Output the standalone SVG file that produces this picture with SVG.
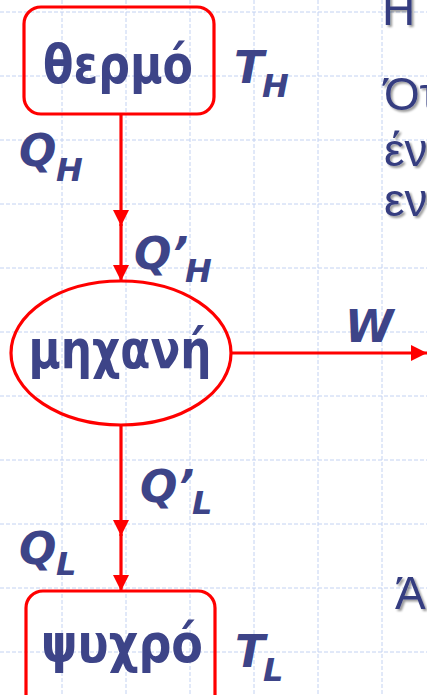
<svg xmlns="http://www.w3.org/2000/svg" width="427" height="695" viewBox="0 0 427 695">
<style>
.grid line{stroke:#c3d2f2;stroke-width:1;stroke-dasharray:4 2}
.shape{fill:none;stroke:#ff0000;stroke-width:3.2}
.conn{fill:none;stroke:#ff0000;stroke-width:3.2;marker-end:url(#ah)}
.node{font-family:"DejaVu Sans",Verdana,sans-serif;font-weight:bold;fill:#3d4488}
.lbl{font-family:"DejaVu Sans",Verdana,sans-serif;font-weight:bold;font-style:italic;fill:#3d4488}
.side{font-family:"Liberation Sans",Arial,sans-serif;font-size:46px;fill:#363d80;filter:url(#sh)}
</style>
<defs>
<marker id="ah" viewBox="0 0 10 10" refX="10" refY="5" markerWidth="5" markerHeight="5" markerUnits="strokeWidth" orient="auto">
<path d="M0,0 L10,5 L0,10 z" fill="#ff0000"/>
</marker>
<filter id="sh" x="-20%" y="-20%" width="150%" height="150%">
<feDropShadow dx="2" dy="2" stdDeviation="1" flood-color="#000" flood-opacity="0.4"/>
</filter>
</defs>
<rect width="427" height="695" fill="#ffffff"/>
<g class="grid">
<line x1="0" y1="12" x2="427" y2="12"/>
<line x1="0" y1="76" x2="427" y2="76"/>
<line x1="0" y1="140" x2="427" y2="140"/>
<line x1="0" y1="204" x2="427" y2="204"/>
<line x1="0" y1="268" x2="427" y2="268"/>
<line x1="0" y1="332" x2="427" y2="332"/>
<line x1="0" y1="396" x2="427" y2="396"/>
<line x1="0" y1="460" x2="427" y2="460"/>
<line x1="0" y1="524" x2="427" y2="524"/>
<line x1="0" y1="588" x2="427" y2="588"/>
<line x1="0" y1="652" x2="427" y2="652"/>
<line x1="62" y1="0" x2="62" y2="695"/>
<line x1="126" y1="0" x2="126" y2="695"/>
<line x1="190" y1="0" x2="190" y2="695"/>
<line x1="254" y1="0" x2="254" y2="695"/>
<line x1="318" y1="0" x2="318" y2="695"/>
<line x1="382" y1="0" x2="382" y2="695"/>
</g>
<g id="side-text">
<text class="side" x="382" y="25">Η</text>
<text class="side" x="384" y="110">Ότ</text>
<text class="side" x="384" y="166">έν</text>
<text class="side" x="384" y="216">εν</text>
<text class="side" x="395" y="609">Ά</text>
</g>
<g id="connectors">
<line class="conn" x1="121" y1="114" x2="121" y2="226"/>
<line class="conn" x1="121" y1="224" x2="121" y2="281"/>
<line class="conn" x1="231" y1="353" x2="427" y2="353"/>
<line class="conn" x1="121" y1="425" x2="121" y2="536"/>
<line class="conn" x1="121" y1="534" x2="121" y2="591"/>
</g>
<g id="hot">
<rect class="shape" x="24" y="7" width="190" height="107" rx="17"/>
<text class="node" x="118" y="83" font-size="53" text-anchor="middle" textLength="150" lengthAdjust="spacingAndGlyphs">θερμό</text>
</g>
<g id="engine">
<ellipse class="shape" cx="121" cy="353" rx="110" ry="72"/>
<text class="node" x="120" y="368" font-size="53" text-anchor="middle" textLength="183" lengthAdjust="spacingAndGlyphs">μηχανή</text>
</g>
<g id="cold">
<rect class="shape" x="26" y="591" width="189" height="125" rx="17"/>
<text class="node" x="122" y="662" font-size="53" text-anchor="middle" textLength="162" lengthAdjust="spacingAndGlyphs">ψυχρό</text>
</g>
<g id="labels">
<text class="lbl" font-size="44"><tspan x="234" y="83">T</tspan><tspan x="262" y="97" font-size="32">H</tspan></text>
<text class="lbl" font-size="44"><tspan x="19" y="166">Q</tspan><tspan x="56" y="181" font-size="32">H</tspan></text>
<text class="lbl" font-size="44"><tspan x="134" y="269">Q’</tspan><tspan x="185" y="282" font-size="32">H</tspan></text>
<text class="lbl" font-size="44" x="345" y="342">W</text>
<text class="lbl" font-size="44"><tspan x="140" y="502">Q’</tspan><tspan x="192" y="514" font-size="32">L</tspan></text>
<text class="lbl" font-size="44"><tspan x="19" y="564">Q</tspan><tspan x="56" y="575" font-size="32">L</tspan></text>
<text class="lbl" font-size="44"><tspan x="235" y="667">T</tspan><tspan x="263" y="681" font-size="32">L</tspan></text>
</g>
</svg>
